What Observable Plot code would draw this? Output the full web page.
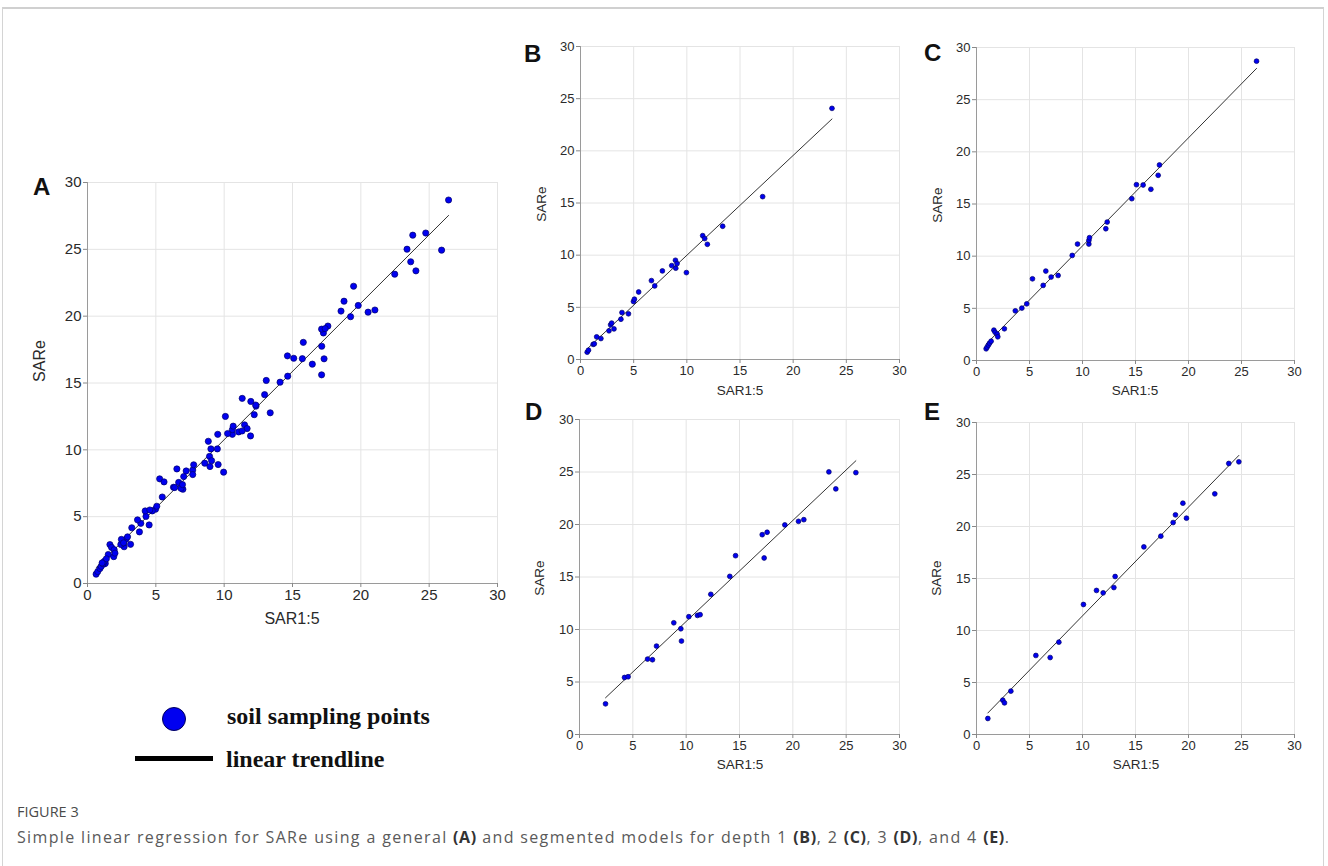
<!DOCTYPE html>
<html><head><meta charset="utf-8">
<script src="https://cdn.jsdelivr.net/npm/d3@7"></script>
<script src="https://cdn.jsdelivr.net/npm/@observablehq/plot@0.6"></script>
<style>
body{margin:0;background:#fff;}
#root{position:relative;width:1328px;height:866px;overflow:hidden;font-family:"Liberation Sans",Arial,sans-serif;background:#fff;}
.frame{position:absolute;left:2px;top:7px;width:1322px;height:900px;border:1px solid #d4d4d4;border-top:2px solid #d0d0d0;box-sizing:border-box;}
.panel{position:absolute;}
.panel svg{overflow:visible;display:block;}
.letter{position:absolute;font:bold 24px "Liberation Sans",Arial,sans-serif;color:#111;line-height:1;}
.xl,.yl{position:absolute;white-space:nowrap;color:#2a2a2a;line-height:1;}
.xl{transform:translate(-50%,-50%);}
.yl{transform:translate(-50%,-50%) rotate(-90deg);}
.leg{position:absolute;font:bold 24px "Liberation Serif","Times New Roman",serif;color:#111;line-height:1;white-space:nowrap;}
.cap1{position:absolute;left:17px;top:802px;font:14.5px "Open Sans",sans-serif;color:#4a4a4a;}
.cap2{position:absolute;left:17px;top:826px;font:16px "Open Sans",sans-serif;color:#5a5a5a;white-space:nowrap;letter-spacing:1.35px;}
.cap2 b{color:#333;font-weight:700;letter-spacing:0.6px;}
</style>
</head><body>
<div id="root">
  <div class="frame"></div>
</div>
<script>
// ---- data ----
const tickVals = [0, 5, 10, 15, 20, 25, 30];

// Depth 1 (B)
const depth1X = [0.63,0.75,1.19,1.3,1.52,1.92,2.68,2.83,2.93,3.15,3.8,3.9,4.51,4.98,5.07,5.47,6.67,6.98,7.7,8.58,8.93,8.96,9.08,9.96,11.49,11.68,11.93,13.37,17.13,23.65];
const depth1Y = [0.7,0.89,1.45,1.5,2.17,2.01,2.75,3.32,3.49,2.93,3.86,4.5,4.38,5.56,5.78,6.47,7.56,7.05,8.49,9.0,9.51,8.75,9.19,8.33,11.87,11.59,11.04,12.77,15.61,24.07];

// Depth 2 (C)
const depth2X = [0.91,1.0,1.13,1.23,1.38,1.64,1.76,1.95,2.01,2.63,3.66,4.28,4.74,5.28,6.29,6.54,7.04,7.7,9.03,9.53,10.6,10.6,10.66,12.2,12.33,14.65,15.09,15.72,16.45,17.14,17.26,26.42];
const depth2Y = [1.12,1.28,1.48,1.66,1.85,2.91,2.7,2.53,2.27,3.04,4.76,5.02,5.43,7.83,7.2,8.57,8.0,8.15,10.07,11.16,11.16,11.51,11.77,12.63,13.27,15.51,16.85,16.82,16.41,17.75,18.74,28.69];

// Depth 3 (D)
const depth3X = [2.44,4.22,4.56,6.38,6.84,7.22,8.84,9.5,9.56,10.25,11.06,11.31,12.31,14.09,14.63,17.13,17.59,17.31,19.25,20.53,21.03,23.38,24.03,25.91];
const depth3Y = [2.92,5.43,5.5,7.18,7.12,8.42,10.64,10.07,8.9,11.22,11.34,11.41,13.35,15.06,17.03,19.03,19.26,16.81,19.96,20.3,20.46,25.01,23.39,24.94];

// Depth 4 (E)
const depth4X = [1.07,2.48,2.64,3.24,5.6,6.95,7.77,10.09,11.32,11.95,12.96,13.08,15.79,17.39,18.55,18.77,19.47,19.81,22.48,23.8,24.75];
const depth4Y = [1.54,3.3,3.04,4.17,7.6,7.4,8.88,12.5,13.85,13.62,14.13,15.19,18.04,19.07,20.38,21.12,22.24,20.8,23.14,26.06,26.22];

// General model (A) = all depths together
const allX = [...depth1X, ...depth2X, ...depth3X, ...depth4X];
const allY = [...depth1Y, ...depth2Y, ...depth3Y, ...depth4Y];

const xLabel = "SAR1:5";
const yLabel = "SARe";

// ---- drawing ----
const root = document.getElementById("root");

function makePanel(xs, ys, o) {
  const data = xs.map((x, i) => ({x, y: ys[i]}));
  const chart = Plot.plot({
    width: o.w, height: o.h,
    marginLeft: o.mL, marginRight: o.mR, marginTop: o.mT, marginBottom: o.mB,
    style: {fontFamily: "Liberation Sans, Arial, sans-serif", fontSize: o.fs + "px", color: "#2a2a2a", background: "transparent", overflow: "visible"},
    x: {domain: [0, 30]},
    y: {domain: [0, 30]},
    marks: [
      Plot.gridX(tickVals, {stroke: "#e4e4e4", strokeOpacity: 1}),
      Plot.gridY(tickVals, {stroke: "#e4e4e4", strokeOpacity: 1}),
      Plot.ruleX([0], {stroke: "#9a9a9a"}),
      Plot.ruleY([0], {stroke: "#9a9a9a"}),
      Plot.axisX(tickVals, {tickSize: 4, tickPadding: 2, stroke: "#888", label: null}),
      Plot.axisY(tickVals, {tickSize: 4, tickPadding: 2, stroke: "#888", label: null}),
      Plot.linearRegressionY(data, {x: "x", y: "y", ci: 0, stroke: "#333", strokeWidth: 1}),
      Plot.dot(data, {x: "x", y: "y", r: o.r, fill: "#0000f0", stroke: "#00006a", strokeWidth: 0.7})
    ]
  });
  const div = document.createElement("div");
  div.className = "panel";
  div.style.left = o.left + "px";
  div.style.top = o.top + "px";
  div.appendChild(chart);
  root.appendChild(div);
}

function addText(cls, text, x, y, extra) {
  const d = document.createElement("div");
  d.className = cls;
  d.textContent = text;
  d.style.left = x + "px";
  d.style.top = y + "px";
  if (extra) Object.assign(d.style, extra);
  root.appendChild(d);
}

// Panel A: plot area x 87-497, y 182-583
makePanel(allX, allY, {left: 20, top: 160, w: 500, h: 460, mL: 67, mR: 23, mT: 22, mB: 37, fs: 15, r: 3.1});
// Panel B: x 580-899, y 46-359
makePanel(depth1X, depth1Y, {left: 550, top: 30, w: 370, h: 350, mL: 30, mR: 21, mT: 16, mB: 21, fs: 13, r: 2.4});
// Panel C: x 976-1294, y 47-360
makePanel(depth2X, depth2Y, {left: 946, top: 30, w: 370, h: 350, mL: 30, mR: 22, mT: 17, mB: 20, fs: 13, r: 2.4});
// Panel D: x 579-899, y 419-734
makePanel(depth3X, depth3Y, {left: 549, top: 400, w: 370, h: 350, mL: 30, mR: 20, mT: 19, mB: 16, fs: 13, r: 2.4});
// Panel E: x 976-1294, y 422-734
makePanel(depth4X, depth4Y, {left: 946, top: 400, w: 370, h: 350, mL: 30, mR: 22, mT: 22, mB: 16, fs: 13, r: 2.4});

// panel letters
addText("letter", "A", 33, 175);
addText("letter", "B", 524, 42);
addText("letter", "C", 924, 41);
addText("letter", "D", 525, 400);
addText("letter", "E", 924, 400);

// axis titles
const big = {fontSize: "16px"}, small = {fontSize: "13.5px"};
addText("xl", xLabel, 292, 619, big);
addText("yl", yLabel, 40, 361, big);
addText("xl", xLabel, 740, 391, small);
addText("yl", yLabel, 542, 204, small);
addText("xl", xLabel, 1135, 391, small);
addText("yl", yLabel, 938, 205, small);
addText("xl", xLabel, 740, 765, small);
addText("yl", yLabel, 540, 578, small);
addText("xl", xLabel, 1136, 765, small);
addText("yl", yLabel, 937, 578, small);

// legend
const dotSym = document.createElement("div");
Object.assign(dotSym.style, {position: "absolute", left: "162px", top: "707px", width: "22px", height: "22px", borderRadius: "50%", background: "#0000f0", border: "1px solid #00005a"});
root.appendChild(dotSym);
const lineSym = document.createElement("div");
Object.assign(lineSym.style, {position: "absolute", left: "135px", top: "756px", width: "78px", height: "5px", background: "#000"});
root.appendChild(lineSym);
addText("leg", "soil sampling points", 227, 704);
addText("leg", "linear trendline", 226, 747);

// caption
const c1 = document.createElement("div");
c1.className = "cap1"; c1.textContent = "FIGURE 3";
root.appendChild(c1);
const c2 = document.createElement("div");
c2.className = "cap2";
c2.innerHTML = "Simple linear regression for SARe using a general <b>(A)</b> and segmented models for depth 1 <b>(B)</b>, 2 <b>(C)</b>, 3 <b>(D)</b>, and 4 <b>(E)</b>.";
root.appendChild(c2);
</script>
</body></html>
